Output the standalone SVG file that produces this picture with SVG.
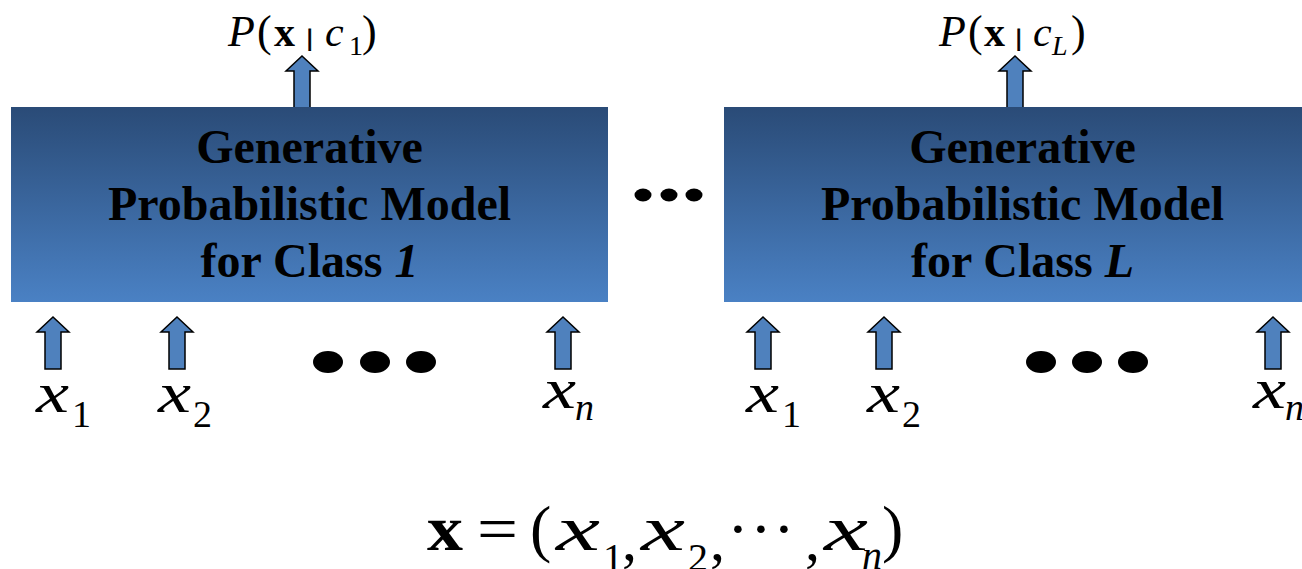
<svg xmlns="http://www.w3.org/2000/svg" width="1302" height="569" viewBox="0 0 1302 569">
<style>
.m{font-family:"Liberation Serif","Times New Roman",serif;fill:#000}
.i{font-style:italic}
.b{font-weight:bold}
.bar{font-family:"DejaVu Sans",sans-serif;font-size:22px;fill:#000;stroke:#000;stroke-width:0.8}
.box{fill:url(#g)}
.bt{font-family:"Liberation Serif","Times New Roman",serif;font-weight:bold;font-size:48px;fill:#000;text-anchor:middle}
.arr{fill:#4f81bd;stroke:#000;stroke-width:1.5;stroke-linejoin:miter}
.dot{fill:#000}
</style>
<defs>
<linearGradient id="g" x1="0" y1="0" x2="0" y2="1">
<stop offset="0" stop-color="#2a4b77"/>
<stop offset="1" stop-color="#4a81c4"/>
</linearGradient>
<path id="up" d="M0,0 L16,15 L8,15 L8,52 L-8,52 L-8,15 L-16,15 Z"/>
</defs>
<rect width="1302" height="569" fill="#fff"/>

<g id="connectors">
<use href="#up" class="arr" transform="translate(302,56)"/>
<use href="#up" class="arr" transform="translate(1015,56)"/>
<use href="#up" class="arr" transform="translate(53,317)"/>
<use href="#up" class="arr" transform="translate(177,317)"/>
<use href="#up" class="arr" transform="translate(563,317)"/>
<use href="#up" class="arr" transform="translate(763,317)"/>
<use href="#up" class="arr" transform="translate(884,317)"/>
<use href="#up" class="arr" transform="translate(1273,317)"/>
</g>

<g id="model1">
<rect class="box" x="11" y="107" width="597" height="195"/>
<text class="bt" x="309.5" y="163">Generative</text>
<text class="bt" x="309.5" y="220">Probabilistic Model</text>
<text class="bt" x="309.5" y="277">for Class <tspan font-style="italic">1</tspan></text>
</g>

<g id="modelL">
<rect class="box" x="724" y="107" width="597" height="195"/>
<text class="bt" x="1022.5" y="163">Generative</text>
<text class="bt" x="1022.5" y="220">Probabilistic Model</text>
<text class="bt" x="1022.5" y="277">for Class <tspan font-style="italic">L</tspan></text>
</g>

<g id="label-p1">
<text class="m i" x="228" y="46" font-size="44">P</text>
<text class="m" x="257" y="46" font-size="44">(</text>
<text class="m b" x="274" y="46" font-size="42">x</text>
<text class="bar" x="306" y="45">|</text>
<text class="m i" x="325" y="46" font-size="42">c</text>
<text class="m" x="349" y="55" font-size="28">1</text>
<text class="m" x="362" y="46" font-size="44">)</text>
</g>

<g id="label-pL">
<text class="m i" x="939" y="46" font-size="44">P</text>
<text class="m" x="968" y="46" font-size="44">(</text>
<text class="m b" x="984" y="46" font-size="42">x</text>
<text class="bar" x="1015" y="45">|</text>
<text class="m i" x="1033" y="46" font-size="42">c</text>
<text class="m i" x="1052" y="55" font-size="28">L</text>
<text class="m" x="1071" y="46" font-size="44">)</text>
</g>

<g id="dots-mid">
<ellipse class="dot" cx="643" cy="195" rx="8.5" ry="6.5"/>
<ellipse class="dot" cx="669" cy="195" rx="8.5" ry="6.5"/>
<ellipse class="dot" cx="694" cy="195" rx="8.5" ry="6.5"/>
</g>
<g id="dots-left">
<ellipse class="dot" cx="328" cy="362" rx="15" ry="11"/>
<ellipse class="dot" cx="375" cy="362" rx="15" ry="11"/>
<ellipse class="dot" cx="421" cy="362" rx="15" ry="11"/>
</g>
<g id="dots-right">
<ellipse class="dot" cx="1041" cy="362" rx="15" ry="11"/>
<ellipse class="dot" cx="1087" cy="362" rx="15" ry="11"/>
<ellipse class="dot" cx="1133" cy="362" rx="15" ry="11"/>
</g>

<g id="inputs-left">
<text class="m i" x="36" y="412" font-size="56" textLength="33" lengthAdjust="spacingAndGlyphs">x</text>
<text class="m" x="72" y="427" font-size="38">1</text>
<text class="m i" x="158" y="412" font-size="56" textLength="33" lengthAdjust="spacingAndGlyphs">x</text>
<text class="m" x="193" y="427" font-size="38">2</text>
<text class="m i" x="543" y="408" font-size="56" textLength="33" lengthAdjust="spacingAndGlyphs">x</text>
<text class="m i" x="575" y="420" font-size="38">n</text>
</g>
<g id="inputs-right">
<text class="m i" x="746" y="412" font-size="56" textLength="33" lengthAdjust="spacingAndGlyphs">x</text>
<text class="m" x="782" y="427" font-size="38">1</text>
<text class="m i" x="867" y="412" font-size="56" textLength="33" lengthAdjust="spacingAndGlyphs">x</text>
<text class="m" x="902" y="427" font-size="38">2</text>
<text class="m i" x="1253" y="408" font-size="56" textLength="33" lengthAdjust="spacingAndGlyphs">x</text>
<text class="m i" x="1285" y="420" font-size="38">n</text>
</g>

<g id="formula">
<text class="m b" x="427" y="550" font-size="64" textLength="36" lengthAdjust="spacingAndGlyphs">x</text>
<text class="m" x="477" y="550" font-size="64" textLength="41" lengthAdjust="spacingAndGlyphs">=</text>
<text class="m" x="530" y="550" font-size="64">(</text>
<text class="m i" x="556" y="550" font-size="64" textLength="44" lengthAdjust="spacingAndGlyphs">x</text>
<text class="m" x="603" y="571" font-size="40">1</text>
<text class="m" x="622" y="560" font-size="60">,</text>
<text class="m i" x="641" y="550" font-size="64" textLength="44" lengthAdjust="spacingAndGlyphs">x</text>
<text class="m" x="688" y="571" font-size="40">2</text>
<text class="m" x="710" y="560" font-size="60">,</text>
<text class="m" x="738" y="550" font-size="64" text-anchor="middle">·</text>
<text class="m" x="761" y="550" font-size="64" text-anchor="middle">·</text>
<text class="m" x="784" y="550" font-size="64" text-anchor="middle">·</text>
<text class="m" x="805" y="560" font-size="60">,</text>
<text class="m i" x="824" y="550" font-size="64" textLength="44" lengthAdjust="spacingAndGlyphs">x</text>
<text class="m i" x="862" y="569" font-size="40">n</text>
<text class="m" x="882" y="550" font-size="64">)</text>
</g>
</svg>
